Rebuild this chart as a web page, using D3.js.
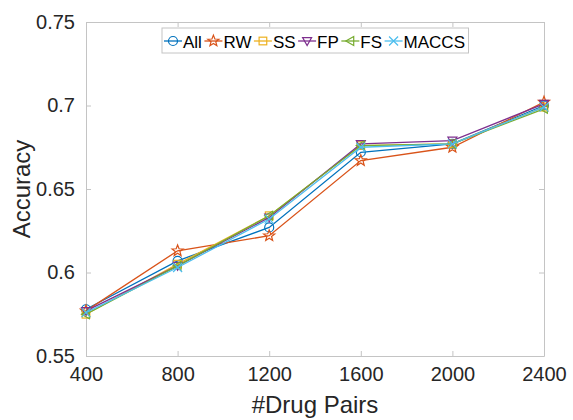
<!DOCTYPE html>
<html>
<head>
<meta charset="utf-8">
<script src="https://cdn.jsdelivr.net/npm/d3@7"></script>
<style>
body { margin: 0; background: #fff; }
text { font-family: "Liberation Sans", Arial, sans-serif; }
</style>
</head>
<body>
<svg id="chart"></svg>
<script>
let pairs = [400, 800, 1200, 1600, 2000, 2400];
let seriesNames = ["All", "RW", "SS", "FP", "FS", "MACCS"];

let allAcc   = [0.578, 0.607, 0.627, 0.672, 0.677, 0.700];
let rwAcc    = [0.577, 0.613, 0.622, 0.667, 0.675, 0.702];
let ssAcc    = [0.575, 0.605, 0.634, 0.676, 0.677, 0.699];
let fpAcc    = [0.577, 0.604, 0.633, 0.677, 0.679, 0.701];
let fsAcc    = [0.575, 0.604, 0.634, 0.676, 0.677, 0.698];
let maccsAcc = [0.576, 0.603, 0.632, 0.675, 0.677, 0.699];

let yTicks = [0.55, 0.6, 0.65, 0.7, 0.75];

let colors = ["#0072BD", "#D95319", "#EDB120", "#7E2F8E", "#77AC30", "#4DBEEE"];
let markers = ["circle", "star", "square", "tridown", "trileft", "cross"];
let allSeries = [allAcc, rwAcc, ssAcc, fpAcc, fsAcc, maccsAcc];

let width = 573;
let height = 420;
let margin = {top: 22, right: 29, bottom: 64, left: 86};
let axisColor = "#c4c4c4";
let textColor = "#262626";

let svg = d3.select("#chart").attr("width", width).attr("height", height);

let xScale = d3.scaleLinear().domain([400, 2400]).range([margin.left, width - margin.right]);
let yScale = d3.scaleLinear().domain([0.55, 0.75]).range([height - margin.bottom, margin.top]);

// box with ticks on every side
let tickLen = 5;
let axes = [
    {axis: d3.axisBottom(xScale).tickValues(pairs).tickFormat(d3.format("d")), t: "translate(0," + yScale(0.55) + ")"},
    {axis: d3.axisTop(xScale).tickValues(pairs).tickFormat(""), t: "translate(0," + yScale(0.75) + ")"},
    {axis: d3.axisLeft(yScale).tickValues(yTicks).tickFormat(d => String(+d.toFixed(2))), t: "translate(" + xScale(400) + ",0)"},
    {axis: d3.axisRight(yScale).tickValues(yTicks).tickFormat(""), t: "translate(" + xScale(2400) + ",0)"}
];
axes.forEach(a => {
    let g = svg.append("g").attr("transform", a.t)
        .call(a.axis.tickSizeInner(-tickLen).tickSizeOuter(0).tickPadding(tickLen + 6));
    g.select(".domain").attr("stroke", axisColor);
    g.selectAll(".tick line").attr("stroke", axisColor);
    g.selectAll(".tick text").attr("fill", textColor).style("font-size", "20px");
});

svg.append("text")
    .attr("x", (xScale(400) + xScale(2400)) / 2)
    .attr("y", 413)
    .attr("text-anchor", "middle")
    .attr("fill", textColor)
    .style("font-size", "24px")
    .text("#Drug Pairs");

svg.append("text")
    .attr("transform", "translate(30," + ((yScale(0.55) + yScale(0.75)) / 2) + ")rotate(-90)")
    .attr("text-anchor", "middle")
    .attr("fill", textColor)
    .style("font-size", "24px")
    .text("Accuracy");

let drawMarker = (g, type, color, s) => {
    if (type === "circle") {
        g.append("circle").attr("r", s).attr("fill", "none").attr("stroke", color).attr("stroke-width", 1.2);
    } else if (type === "square") {
        g.append("rect").attr("x", -s * 0.85).attr("y", -s * 0.85).attr("width", s * 1.7).attr("height", s * 1.7)
            .attr("fill", "none").attr("stroke", color).attr("stroke-width", 1.2);
    } else if (type === "star") {
        let pts = [];
        for (let i = 0; i < 10; i++) {
            let r = i % 2 === 0 ? s * 1.3 : s * 0.55;
            let a = -Math.PI / 2 + i * Math.PI / 5;
            pts.push([r * Math.cos(a), r * Math.sin(a)]);
        }
        g.append("polygon").attr("points", pts.map(p => p.join(",")).join(" "))
            .attr("fill", "none").attr("stroke", color).attr("stroke-width", 1.2);
    } else if (type === "tridown") {
        g.append("polygon").attr("points", [[-s, -s * 0.75], [s, -s * 0.75], [0, s]].map(p => p.join(",")).join(" "))
            .attr("fill", "none").attr("stroke", color).attr("stroke-width", 1.2);
    } else if (type === "trileft") {
        g.append("polygon").attr("points", [[s * 0.75, -s], [s * 0.75, s], [-s, 0]].map(p => p.join(",")).join(" "))
            .attr("fill", "none").attr("stroke", color).attr("stroke-width", 1.2);
    } else if (type === "cross") {
        g.append("path").attr("d", "M" + (-s) + "," + (-s) + "L" + s + "," + s + "M" + (-s) + "," + s + "L" + s + "," + (-s))
            .attr("fill", "none").attr("stroke", color).attr("stroke-width", 1.2);
    }
};

let line = d3.line()
    .x((d, i) => xScale(pairs[i]))
    .y(d => yScale(d));

allSeries.forEach((vals, k) => {
    svg.append("path")
        .datum(vals)
        .attr("d", line)
        .attr("fill", "none")
        .attr("stroke", colors[k])
        .attr("stroke-width", 1.3);
    vals.forEach((v, i) => {
        let g = svg.append("g").attr("transform", "translate(" + xScale(pairs[i]) + "," + yScale(v) + ")");
        drawMarker(g, markers[k], colors[k], 4.5);
    });
});

// legend
let legend = svg.append("g");
let legBox = legend.append("rect")
    .attr("fill", "#fff").attr("stroke", axisColor).attr("stroke-width", 1);
let lx = 164;
let ly = 41;
seriesNames.forEach((name, k) => {
    legend.append("line").attr("x1", lx).attr("x2", lx + 18).attr("y1", ly).attr("y2", ly)
        .attr("stroke", colors[k]).attr("stroke-width", 1.3);
    let g = legend.append("g").attr("transform", "translate(" + (lx + 9) + "," + ly + ")");
    drawMarker(g, markers[k], colors[k], 4.5);
    let t = legend.append("text").attr("x", lx + 19).attr("y", ly + 6.5)
        .attr("fill", "#000").style("font-size", "17px").text(name);
    lx += 19 + t.node().getComputedTextLength() + 2.5;
});
legBox.attr("x", 162).attr("y", 28).attr("width", lx - 162 + 1).attr("height", 25);
</script>
</body>
</html>
